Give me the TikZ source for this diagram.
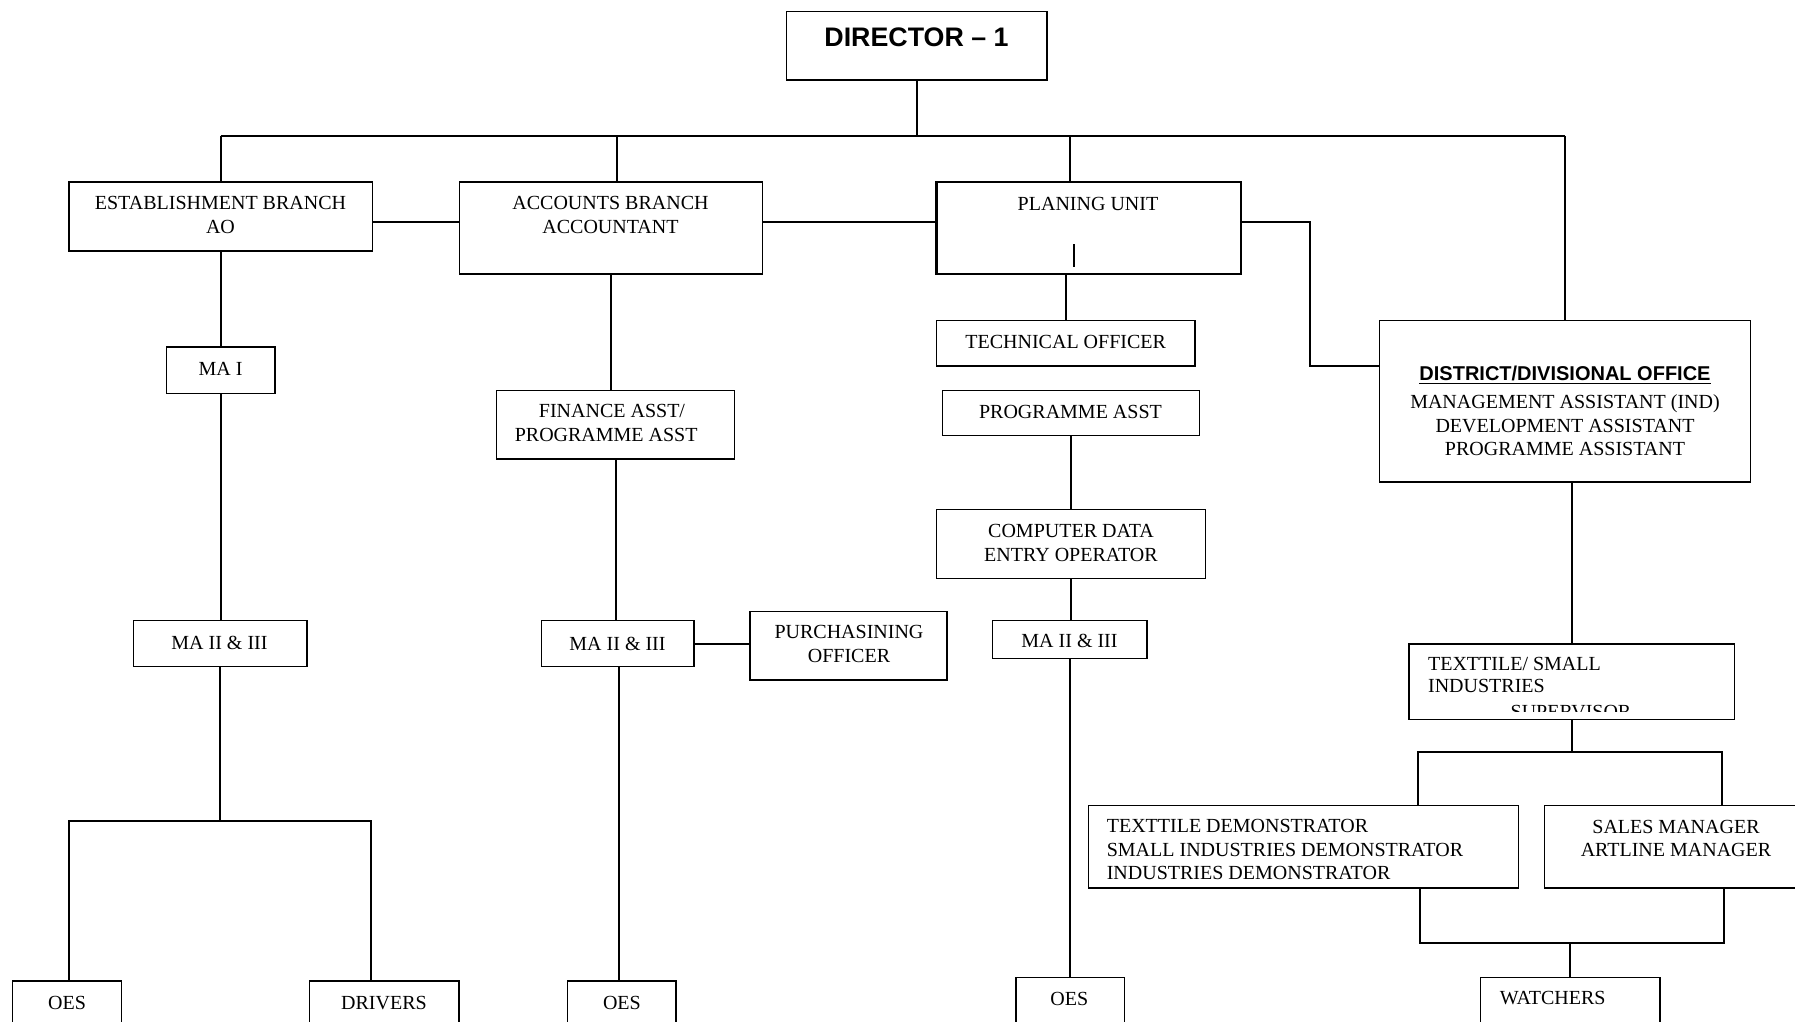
\documentclass[tikz,border=0pt]{standalone}
\usepackage{fontspec}
\setmainfont{Liberation Serif}
\newfontfamily\headsans{Liberation Sans}
\usetikzlibrary{fit}

\tikzset{
  orgbox/.style={draw=black, line width=0.6pt, inner sep=0pt},
  planbox/.style={orgbox, line width=1.1pt},
  link/.style={draw=black, line width=1pt},
  lbl/.style={inner sep=0pt, font=\fontsize{10}{11.7}\selectfont, align=center},
  lbll/.style={lbl, align=left},
  headbig/.style={inner sep=0pt, font=\headsans\bfseries\fontsize{13.4}{15}\selectfont},
  headsmall/.style={inner sep=0pt, font=\headsans\bfseries\fontsize{10}{12}\selectfont},
}

% rectangle node spanning two corners (pixel units)
\newcommand\boxfit[6][]{\node[orgbox,#1,fit={(#3,#4) (#5,#6)}] (#2) {};}

\begin{document}
\begin{tikzpicture}[x=0.5pt, y=-0.5pt]
\useasboundingbox (0,0) rectangle (1795,1022);
\clip (0,0) rectangle (1795,1022);

% ---------- boxes ----------
\boxfit{dir}{786.5}{11.5}{1047}{80}
\boxfit{est}{69}{182}{372.3}{251}
\boxfit{acc}{459.6}{182}{762.6}{274}
\boxfit[planbox]{plan}{936.5}{182}{1241}{274}
\boxfit{tech}{936.7}{320.7}{1195}{366}
\boxfit{dist}{1379.3}{320.7}{1750.7}{482}
\boxfit{mai}{166.3}{347}{275}{393.5}
\boxfit{fin}{496.5}{390.2}{734.5}{459}
\boxfit{prog}{942.2}{390.2}{1199.7}{435.5}
\boxfit{comp}{936.5}{509.4}{1205.5}{578.2}
\boxfit{mal}{133.5}{620.6}{307}{666.5}
\boxfit{mam}{541.7}{620.7}{694}{666.7}
\boxfit{purch}{750}{611.7}{947}{680}
\boxfit{mar}{992.5}{620.5}{1147}{658.3}
\boxfit{tsup}{1409}{644}{1734.3}{719.3}
\boxfit{td}{1088.5}{805.5}{1518.7}{888}
\boxfit{sales}{1544.2}{805.5}{1810}{888}
\boxfit{oesl}{12.5}{981}{121.4}{1040}
\boxfit{drv}{309.4}{981}{458.9}{1040}
\boxfit{oesm}{567.5}{981}{676}{1040}
\boxfit{oesr}{1016}{977.5}{1124.3}{1040}
\boxfit{watch}{1480.8}{977.5}{1660}{1040}

% ---------- helper coordinates ----------
\coordinate (busy) at (0,136);
\coordinate (rowy) at (0,222.3);
\coordinate (lsy) at (0,820.8);
\coordinate (lsa) at (69,820.8);
\coordinate (lsb) at (371,820.8);
\coordinate (elbow) at (1309.6,366);
\coordinate (tby) at (0,751.7);
\coordinate (tba) at (1418.4,751.7);
\coordinate (tbb) at (1722,751.7);
\coordinate (bba) at (1419.7,943.3);
\coordinate (bbb) at (1723.9,943.3);
\coordinate (accdrop) at ([xshift=2.8pt]acc.north);
\coordinate (plandrop) at ([xshift=-9.4pt]plan.north);
\coordinate (mamdrop) at ([xshift=0.8pt]mam.south);

% ---------- connectors ----------
\draw[link] (dir.south) -- (dir.south |- busy);
\draw[link] (est.north |- busy) -- (dist.north |- busy);
\draw[link] (est.north |- busy) -- (est.north);
\draw[link] (accdrop |- busy) -- (accdrop);
\draw[link] (plandrop |- busy) -- (plandrop);
\draw[link] (dist.north |- busy) -- (dist.north);

\draw[link] (est.east |- rowy) -- (acc.west |- rowy);
\draw[link] (acc.east |- rowy) -- (plan.west |- rowy);
\draw[link] (plan.east |- rowy) -| (elbow) -- (elbow -| dist.west);

% establishment column
\draw[link] (est.south) -- (mai.north);
\draw[link] (mai.south) -- (mai.south |- mal.north);
\draw[link] (mal.south) -- (mal.south |- lsy);
\draw[link] (lsa |- oesl.north) -- (lsa) -- (lsb) -- (lsb |- drv.north);

% accounts column
\draw[link] (acc.south) -- (acc.south |- fin.north);
\draw[link] (fin.south) -- (fin.south |- mam.north);
\draw[link] (mamdrop) -- (mamdrop |- oesm.north);
\draw[link] (mam.east) -- (mam.east -| purch.west);

% planning column
\draw[link] (plan.south -| tech.north) -- (tech.north);
\draw[link] (prog.south) -- (prog.south |- comp.north);
\draw[link] (comp.south) -- (comp.south |- mar.north);
\draw[link] (mar.south) -- (mar.south |- oesr.north);

% district column
\draw[link] (tsup.north |- dist.south) -- (tsup.north);
\draw[link] (tsup.south) -- (tsup.south |- tby);
\draw[link] (tba |- td.north) -- (tba) -- (tbb) -- (tbb |- sales.north);
\draw[link] (bba |- td.south) -- (bba) -- (bbb) -- (bbb |- sales.south);
\draw[link] (watch.north |- bba) -- (watch.north);

% ---------- texts ----------
\node[headbig] (tdir) at (916.5,37.5) {DIRECTOR – 1};
\node[lbl] (test) at (220.5,215) {ESTABLISHMENT BRANCH\\AO};
\node[lbl] (tacc) at (610.5,215) {ACCOUNTS BRANCH\\ACCOUNTANT};
\node[lbl] (tplan) at (1088,204.3) {PLANING UNIT};
\draw[line width=1pt] (1074,244) -- (1074,267);
\node[lbl] (ttech) at (1065.7,342) {TECHNICAL OFFICER};
\node[lbl] (tmai) at (220.5,369) {MA I};
\node[lbl] (tfin) at (606.2,423) {\hspace*{5.8pt}FINANCE ASST/\\PROGRAMME ASST};
\node[lbl] (tprog) at (1070.5,411.5) {PROGRAMME ASST};
\node[lbl] (tcomp) at (1071,543) {COMPUTER DATA\\ENTRY OPERATOR};
\node[lbl] (tmal) at (219.5,643.3) {MA II \& III};
\node[lbl] (tmam) at (617.5,644) {MA II \& III};
\node[lbl] (tmar) at (1069.5,641) {MA II \& III};
\node[lbl] (tpur) at (849,644) {PURCHASINING\\OFFICER};

\node[headsmall, anchor=base] (tdh) at (1565,380) {\underline{DISTRICT/DIVISIONAL OFFICE}};
\node[lbl] (tdl) at (1565,425.5) {MANAGEMENT ASSISTANT (IND)\\DEVELOPMENT ASSISTANT\\PROGRAMME ASSISTANT};

\node[lbl, anchor=base west] (tts1) at (1427.7,670) {TEXTTILE/ SMALL};
\node[lbl, anchor=base west] (tts2) at (1427.7,692.5) {INDUSTRIES};
\begin{scope}
  \clip (1409,644) rectangle (1734,711.5);
  \node[lbl, anchor=base] (tts3) at (1571,718.5) {SUPERVISOR};
\end{scope}

\node[lbll, anchor=west] (ttd) at (1106.4,849.5) {TEXTTILE DEMONSTRATOR\\SMALL INDUSTRIES DEMONSTRATOR\\INDUSTRIES DEMONSTRATOR};
\node[lbl] (tsales) at (1676,838.3) {SALES MANAGER\\ARTLINE MANAGER};

\node[lbl] (toesl) at (67,1003.3) {OES};
\node[lbl] (tdrv) at (384,1003.3) {DRIVERS};
\node[lbl] (toesm) at (621.9,1003.3) {OES};
\node[lbl] (toesr) at (1069.3,999.3) {OES};
\node[lbl, anchor=west] (twatch) at (1499.5,998.3) {WATCHERS};
\end{tikzpicture}
\end{document}
